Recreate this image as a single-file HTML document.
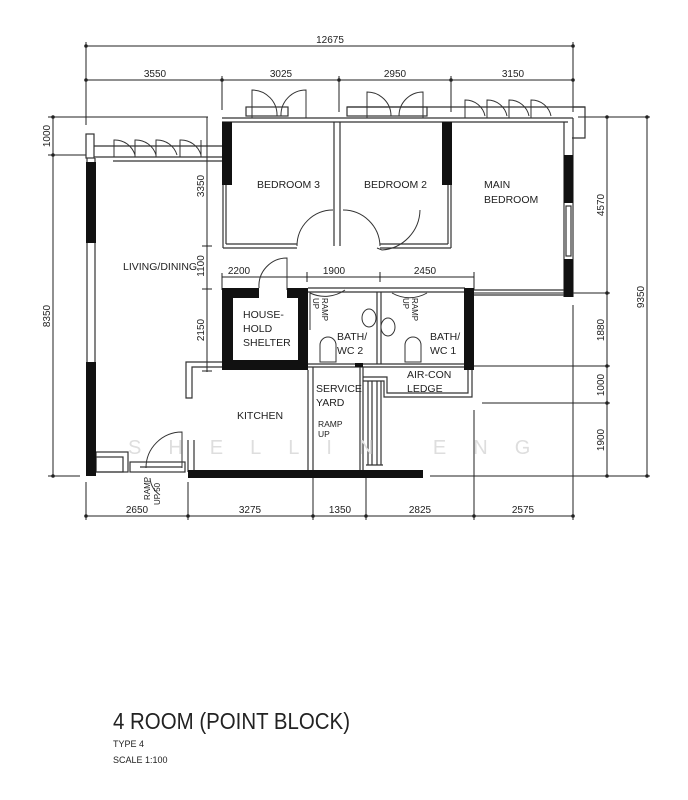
<!DOCTYPE html>
<html><head><meta charset="utf-8"><style>
html,body{margin:0;padding:0;background:#fff;}
svg{display:block;}
text{font-family:"Liberation Sans",sans-serif;fill:#222;}
</style></head><body>
<svg width="688" height="800" viewBox="0 0 688 800" xmlns="http://www.w3.org/2000/svg">
<g stroke="#222" stroke-width="1" fill="none">
<line x1="86" y1="46" x2="573" y2="46"/>
<line x1="86" y1="80" x2="573" y2="80"/>
<line x1="86" y1="42" x2="86" y2="125"/>
<line x1="573" y1="42" x2="573" y2="112"/>
<line x1="222" y1="76" x2="222" y2="110"/>
<line x1="339" y1="76" x2="339" y2="112"/>
<line x1="451" y1="76" x2="451" y2="112"/>
<line x1="53" y1="117" x2="53" y2="476"/>
<line x1="48" y1="117" x2="208" y2="117"/>
<line x1="48" y1="155" x2="86" y2="155"/>
<line x1="48" y1="476" x2="80" y2="476"/>
<line x1="207" y1="117" x2="207" y2="372"/>
<line x1="202" y1="246" x2="212" y2="246"/>
<line x1="202" y1="289" x2="212" y2="289"/>
<line x1="202" y1="371" x2="212" y2="371"/>
<line x1="222" y1="277" x2="474" y2="277"/>
<line x1="222" y1="273" x2="222" y2="290"/>
<line x1="307" y1="272" x2="307" y2="282"/>
<line x1="380" y1="272" x2="380" y2="282"/>
<line x1="474" y1="272" x2="474" y2="290"/>
<line x1="607" y1="117" x2="607" y2="476"/>
<line x1="647" y1="117" x2="647" y2="476"/>
<line x1="578" y1="117" x2="650" y2="117"/>
<line x1="474" y1="293" x2="610" y2="293"/>
<line x1="474" y1="366" x2="610" y2="366"/>
<line x1="482" y1="403" x2="610" y2="403"/>
<line x1="430" y1="476" x2="650" y2="476"/>
<line x1="86" y1="516" x2="573" y2="516"/>
<line x1="86" y1="482" x2="86" y2="520"/>
<line x1="188" y1="482" x2="188" y2="520"/>
<line x1="313" y1="476" x2="313" y2="520"/>
<line x1="366" y1="470" x2="366" y2="520"/>
<line x1="474" y1="410" x2="474" y2="520"/>
<line x1="573" y1="305" x2="573" y2="520"/>
</g>
<g fill="#222">
<circle cx="86" cy="46" r="1.8"/><circle cx="573" cy="46" r="1.8"/>
<circle cx="86" cy="80" r="1.8"/><circle cx="222" cy="80" r="1.8"/><circle cx="339" cy="80" r="1.8"/><circle cx="451" cy="80" r="1.8"/><circle cx="573" cy="80" r="1.8"/>
<circle cx="53" cy="117" r="1.8"/><circle cx="53" cy="155" r="1.8"/><circle cx="53" cy="476" r="1.8"/>
<circle cx="607" cy="117" r="1.8"/><circle cx="647" cy="117" r="1.8"/><circle cx="607" cy="293" r="1.8"/><circle cx="607" cy="366" r="1.8"/><circle cx="607" cy="403" r="1.8"/><circle cx="607" cy="476" r="1.8"/><circle cx="647" cy="476" r="1.8"/>
<circle cx="86" cy="516" r="1.8"/><circle cx="188" cy="516" r="1.8"/><circle cx="313" cy="516" r="1.8"/><circle cx="366" cy="516" r="1.8"/><circle cx="474" cy="516" r="1.8"/><circle cx="573" cy="516" r="1.8"/>
</g>
<g font-size="10" text-anchor="middle">
<text x="330" y="43">12675</text>
<text x="155" y="77">3550</text>
<text x="281" y="77">3025</text>
<text x="395" y="77">2950</text>
<text x="513" y="77">3150</text>
<text x="239" y="274">2200</text>
<text x="334" y="274">1900</text>
<text x="425" y="274">2450</text>
<text x="137" y="513">2650</text>
<text x="250" y="513">3275</text>
<text x="340" y="513">1350</text>
<text x="420" y="513">2825</text>
<text x="523" y="513">2575</text>
<text transform="translate(50,136) rotate(-90)">1000</text>
<text transform="translate(50,316) rotate(-90)">8350</text>
<text transform="translate(204,186) rotate(-90)">3350</text>
<text transform="translate(204,266) rotate(-90)">1100</text>
<text transform="translate(204,330) rotate(-90)">2150</text>
<text transform="translate(604,205) rotate(-90)">4570</text>
<text transform="translate(604,330) rotate(-90)">1880</text>
<text transform="translate(604,385) rotate(-90)">1000</text>
<text transform="translate(604,440) rotate(-90)">1900</text>
<text transform="translate(644,297) rotate(-90)">9350</text>
</g>
<g stroke="#333" stroke-width="1.2" fill="none">
<rect x="86" y="134" width="8" height="24"/>
<line x1="94" y1="146" x2="222" y2="146"/>
<line x1="94" y1="157" x2="222" y2="157"/>
<line x1="113" y1="161" x2="222" y2="161"/>
<line x1="87" y1="158" x2="87" y2="476"/>
<line x1="95" y1="158" x2="95" y2="476"/>
<line x1="222" y1="118" x2="573" y2="118"/>
<line x1="222" y1="122" x2="568" y2="122"/>
<rect x="246" y="107" width="42" height="9"/>
<rect x="347" y="107" width="80" height="9"/>
<line x1="347" y1="107" x2="585" y2="107"/>
<polyline points="573,107 585,107 585,138 572,138"/>
<line x1="223" y1="122" x2="223" y2="248"/><line x1="226" y1="185" x2="226" y2="244"/>
<line x1="223" y1="248" x2="297" y2="248"/><line x1="226" y1="244" x2="297" y2="244"/>
<line x1="334" y1="122" x2="334" y2="246"/><line x1="340" y1="122" x2="340" y2="246"/>
<line x1="380" y1="248" x2="451" y2="248"/><line x1="380" y1="244" x2="448" y2="244"/>
<line x1="448" y1="185" x2="448" y2="244"/><line x1="451" y1="185" x2="451" y2="248"/>
<line x1="564" y1="122" x2="564" y2="297"/><line x1="573" y1="118" x2="573" y2="297"/>
<rect x="566" y="206" width="5" height="50"/>
<line x1="474" y1="290" x2="564" y2="290"/><line x1="474" y1="295" x2="564" y2="295"/>
<line x1="308" y1="288" x2="465" y2="288"/><line x1="308" y1="292" x2="465" y2="292"/>
<line x1="377" y1="292" x2="377" y2="364"/><line x1="381" y1="292" x2="381" y2="364"/>
<line x1="308" y1="364" x2="465" y2="364"/><line x1="308" y1="367" x2="465" y2="367"/>
<polyline points="222,362 186,362 186,398 192,398 192,367 222,367"/>
<line x1="308" y1="370" x2="308" y2="470"/><line x1="313" y1="367" x2="313" y2="470"/>
<line x1="360" y1="367" x2="360" y2="470"/><line x1="363" y1="367" x2="363" y2="470"/>
<polyline points="363,377 387,377 387,393 468,393 468,370"/>
<polyline points="363,381 384,381 384,397 472,397 472,370"/>
<line x1="368" y1="381" x2="368" y2="465"/><line x1="372" y1="381" x2="372" y2="465"/><line x1="377" y1="381" x2="377" y2="465"/><line x1="381" y1="381" x2="381" y2="465"/>
<line x1="366" y1="465" x2="383" y2="465"/>
<rect x="96" y="452" width="32" height="20"/><rect x="96" y="457" width="27" height="15"/>
<rect x="130" y="462" width="55" height="10"/>
<line x1="188" y1="440" x2="188" y2="472"/><line x1="194" y1="440" x2="194" y2="472"/>
<line x1="140" y1="467" x2="182" y2="467"/>
</g>
<g stroke="#333" stroke-width="1" fill="none">
<path d="M114 157 V140 A21 21 0 0 1 135 155 M135 157 V140 A21 21 0 0 1 156 155 M156 157 V140 A21 21 0 0 1 177 155 M180 157 V140 A21 21 0 0 1 201 155 M201 140 V157"/>
<path d="M252 118 V90 A25 25 0 0 1 277 116 M306 118 V90 A25 25 0 0 0 281 116"/>
<path d="M367 118 V92 A24 24 0 0 1 391 116 M423 118 V92 A24 24 0 0 0 399 116"/>
<path d="M465 118 V100 A20 20 0 0 1 485 116 M487 118 V100 A20 20 0 0 1 507 116 M509 118 V100 A20 20 0 0 1 529 116 M531 118 V100 A20 20 0 0 1 551 116"/>
<path d="M297 246 A36 36 0 0 1 333 210 M380 246 A37 37 0 0 0 343 210"/>
<path d="M377 248 L382 250 A41 41 0 0 0 420 210"/>
<path d="M287 290 V258 A28 28 0 0 0 259 288"/>
<path d="M310 330 V293 A35 35 0 0 0 345 290 M392 293 A35 35 0 0 0 427 293"/>
<path d="M182 468 V432 A36 36 0 0 0 146 468 M150 478 A22 22 0 0 0 160 495"/>
</g>
<g fill="#111">
<rect x="86" y="162" width="10" height="81"/>
<rect x="86" y="362" width="10" height="114"/>
<rect x="222" y="122" width="10" height="63"/>
<rect x="442" y="122" width="10" height="63"/>
<rect x="564" y="155" width="9" height="48"/>
<rect x="564" y="259" width="9" height="38"/>
<rect x="188" y="470" width="235" height="8"/>
<rect x="464" y="288" width="10" height="82"/>
<path d="M222 288 H259 V298 H233 V360 H298 V298 H287 V288 H308 V370 H222 Z"/>
<rect x="355" y="363" width="8" height="4"/>
</g>
<g stroke="#333" fill="#fff" stroke-width="1">
<path d="M320 362 V345 A8 8 0 0 1 336 345 V362 Z"/>
<path d="M405 362 V345 A8 8 0 0 1 421 345 V362 Z"/>
<ellipse cx="369" cy="318" rx="7" ry="9"/>
<ellipse cx="388" cy="327" rx="7" ry="9"/>
</g>
<g font-size="10.5" text-anchor="start">
<text x="257" y="188">BEDROOM 3</text>
<text x="364" y="188">BEDROOM 2</text>
<text x="484" y="188">MAIN</text>
<text x="484" y="203">BEDROOM</text>
<text x="123" y="270">LIVING/DINING</text>
<text x="243" y="318">HOUSE-</text>
<text x="243" y="332">HOLD</text>
<text x="243" y="346">SHELTER</text>
<text x="337" y="340">BATH/</text>
<text x="337" y="354">WC 2</text>
<text x="430" y="340">BATH/</text>
<text x="430" y="354">WC 1</text>
<text x="407" y="378">AIR-CON</text>
<text x="407" y="392">LEDGE</text>
<text x="316" y="392">SERVICE</text>
<text x="316" y="406">YARD</text>
<text x="237" y="419">KITCHEN</text>
<text x="318" y="427" font-size="8.5">RAMP</text>
<text x="318" y="437" font-size="8.5">UP</text>
<text transform="translate(322,298) rotate(90)" font-size="8">RAMP</text>
<text transform="translate(313,298) rotate(90)" font-size="8">UP</text>
<text transform="translate(412,298) rotate(90)" font-size="8">RAMP</text>
<text transform="translate(403,298) rotate(90)" font-size="8">UP</text>
<text transform="translate(150,500) rotate(-90)" font-size="8">RAMP</text>
<text transform="translate(160,505) rotate(-90)" font-size="8">UP 50</text>
</g>
<text x="128" y="454" font-size="20" style="fill:#dedede" letter-spacing="27">SHELLIN ENG</text>
<text x="113" y="729" font-size="23" textLength="237" lengthAdjust="spacingAndGlyphs">4 ROOM (POINT BLOCK)</text>
<text x="113" y="747" font-size="9">TYPE 4</text>
<text x="113" y="763" font-size="9">SCALE  1:100</text>
</svg>
</body></html>
